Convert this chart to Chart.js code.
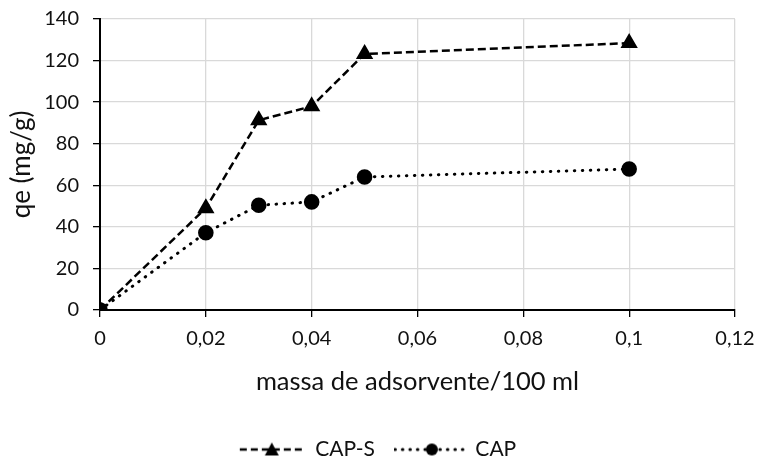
<!DOCTYPE html>
<html><head><meta charset="utf-8">
<script src="https://cdn.jsdelivr.net/npm/chart.js@4"></script>
<style>html,body{margin:0;padding:0;background:#fff}#wrap{width:757px;height:460px}</style>
</head><body><div id="wrap"><canvas id="c" width="757" height="460"></canvas></div>
<script>
const masses = [0, 0.02, 0.03, 0.04, 0.05, 0.1];
const capS = [0, 49, 91.3, 98, 123.2, 128.4];
const cap = [0, 37.2, 50.4, 52, 64, 67.8];
const seriesNames = ['CAP-S', 'CAP'];
const xTitle = 'massa de adsorvente/100 ml';
const yTitle = 'qe (mg/g)';

const FONT = 'Lato';
const TXT = '#111';

function legendImg(kind) {
  const w = kind === 'dash' ? 66 : 76;
  const c = document.createElement('canvas');
  c.width = w; c.height = 16;
  const g = c.getContext('2d');
  g.strokeStyle = '#000'; g.fillStyle = '#000';
  g.lineWidth = 2.5;
  if (kind === 'dash') { g.setLineDash([7, 4]); g.lineCap = 'butt'; }
  else { g.setLineDash([0.5, 7]); g.lineCap = 'round'; g.lineWidth = 3; }
  g.beginPath(); g.moveTo(1, 8); g.lineTo(w - 1, 8); g.stroke();
  g.setLineDash([]);
  const m = w / 2;
  if (kind === 'dash') {
    g.beginPath(); g.moveTo(m, 1); g.lineTo(m + 7, 14); g.lineTo(m - 7, 14); g.closePath(); g.fill();
  } else {
    g.beginPath(); g.arc(m, 8, 6, 0, Math.PI * 2); g.fill();
  }
  return c;
}
const imgs = [legendImg('dash'), legendImg('dot')];

const fmt = v => Number(v.toFixed(2)).toString().replace('.', ',');

new Chart(document.getElementById('c'), {
  type: 'scatter',
  data: {
    datasets: [
      {
        label: seriesNames[0],
        data: masses.map((m, i) => ({x: m, y: capS[i]})),
        showLine: true,
        borderColor: '#000', backgroundColor: '#000',
        borderWidth: 2.5, borderDash: [8, 4],
        pointStyle: 'triangle', pointRadius: 7.5, pointHoverRadius: 7.5,
      },
      {
        label: seriesNames[1],
        data: masses.map((m, i) => ({x: m, y: cap[i]})),
        showLine: true,
        borderColor: '#000', backgroundColor: '#000',
        borderWidth: 3, borderDash: [0.5, 7.5], borderCapStyle: 'round',
        pointStyle: 'circle', pointRadius: 6.3, pointHoverRadius: 6.3,
      }
    ]
  },
  options: {
    responsive: false,
    animation: false,
    layout: {autoPadding: false, padding: {top: 19, right: 2, left: 0, bottom: -10}},
    plugins: {
      tooltip: {enabled: false},
      legend: {
        position: 'bottom',
        labels: {
          usePointStyle: true,
          pointStyleWidth: 66,
          boxHeight: 16,
          padding: 24,
          color: TXT,
          font: {family: FONT, size: 21},
          generateLabels(chart) {
            return chart.data.datasets.map((d, i) => ({
              text: d.label, pointStyle: imgs[i], datasetIndex: i,
              fillStyle: '#000', strokeStyle: '#000', lineWidth: 0, fontColor: TXT, hidden: false
            }));
          }
        }
      }
    },
    scales: {
      x: {
        type: 'linear', min: 0, max: 0.12,
        ticks: {stepSize: 0.02, color: TXT, font: {family: FONT, size: 20}, callback: v => fmt(v), padding: 10},
        grid: {color: '#d9d9d9', lineWidth: 1.3, tickColor: '#000', tickLength: 7},
        border: {color: '#000', width: 2},
        title: {display: true, text: xTitle, color: TXT, font: {family: FONT, size: 25.5}, padding: {top: 4, bottom: 18}},
        afterFit(s) { s.height = 105; s.paddingLeft = 0; s.paddingRight = 0; }
      },
      y: {
        min: 0, max: 140,
        ticks: {stepSize: 20, color: TXT, font: {family: FONT, size: 20}, padding: 14},
        grid: {color: '#d9d9d9', lineWidth: 1.3, tickColor: '#000', tickLength: 7},
        border: {color: '#000', width: 2},
        title: {display: true, text: yTitle, color: TXT, font: {family: FONT, size: 26}, padding: {top: 6, bottom: 4}},
        afterFit(s) { s.width = 100; s.paddingTop = 0; s.paddingBottom = 0; }
      },
      spacer: {
        type: 'linear', position: 'right', display: true, min: 0, max: 1,
        grid: {display: false, drawTicks: false},
        ticks: {display: false},
        border: {display: false},
        title: {display: false},
        afterFit(s) { s.width = 20; s.paddingTop = 0; s.paddingBottom = 0; }
      }
    }
  }
});
</script></body></html>
